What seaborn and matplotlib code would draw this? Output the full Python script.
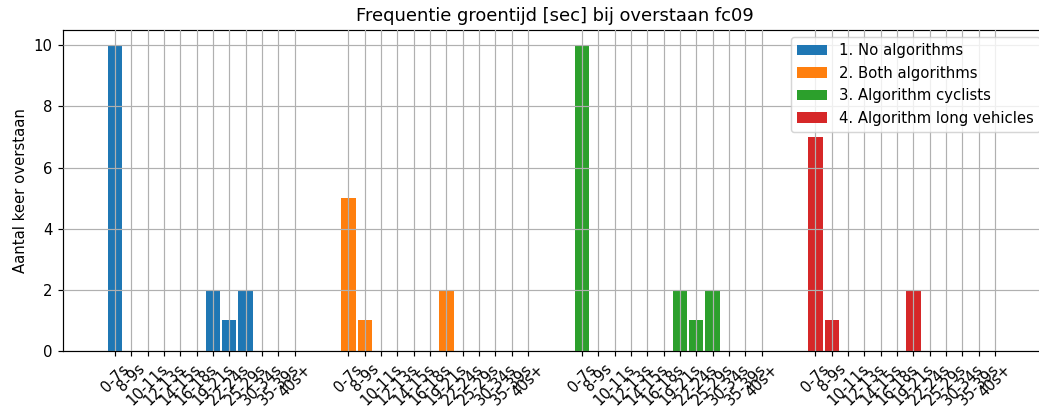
import numpy as np
import pandas as pd
import seaborn as sns
import matplotlib
matplotlib.use("Agg")
import matplotlib.pyplot as plt

# data
bins = ["0-7s", "8-9s", "10-11s", "12-13s", "14-15s", "16-18s",
        "19-21s", "22-24s", "25-29s", "30-34s", "35-39s", "40s+"]
groups = ["1. No algorithms", "2. Both algorithms",
          "3. Algorithm cyclists", "4. Algorithm long vehicles"]
no_alg = [10, 0, 0, 0, 0, 0, 2, 1, 2, 0, 0, 0]
both_alg = [5, 1, 0, 0, 0, 0, 2, 0, 0, 0, 0, 0]
alg_cyclists = [10, 0, 0, 0, 0, 0, 2, 1, 2, 0, 0, 0]
alg_long = [7, 1, 0, 0, 0, 0, 2, 0, 0, 0, 0, 0]
colors = ["#1f77b4", "#ff7f0e", "#2ca02c", "#d62728"]

series = [no_alg, both_alg, alg_cyclists, alg_long]
group_gap = 14.3

rows = []
for g, (name, vals) in enumerate(zip(groups, series)):
    for i, v in enumerate(vals):
        rows.append({"pos": round(g * group_gap + i, 2), "count": v, "group": name, "bin": bins[i]})
df = pd.DataFrame(rows)

dpi = 107
fig = plt.figure(figsize=(1039 / dpi, 407 / dpi), dpi=dpi)
ax = fig.add_axes([63 / 1039, 56 / 407, (1047 - 63) / 1039, (351 - 30) / 407])

sns.barplot(data=df, x="pos", y="count", hue="group", native_scale=True,
            dodge=False, width=0.875, palette=colors, linewidth=0,
            saturation=1, ax=ax)

ax.set_xticks(df["pos"])
ax.set_xticklabels(df["bin"], rotation=45, fontsize=10)
ax.set_xlim(df["pos"].min() - 0.4375 - 2.74, df["pos"].max() + 0.4375 + 2.74)
ax.set_ylim(0, 10.5)
ax.set_yticks([0, 2, 4, 6, 8, 10])
ax.grid(True, color="#b0b0b0", linewidth=0.8)
ax.set_axisbelow(False)
for b in ax.patches:
    b.set_zorder(1)
ax.set_xlabel("")
ax.set_ylabel("Aantal keer overstaan", fontsize=10)
ax.set_title("Frequentie groentijd [sec] bij overstaan fc09", fontsize=12)
ax.legend(loc="upper right", fontsize=10)

fig.savefig("out.png", dpi=dpi)
